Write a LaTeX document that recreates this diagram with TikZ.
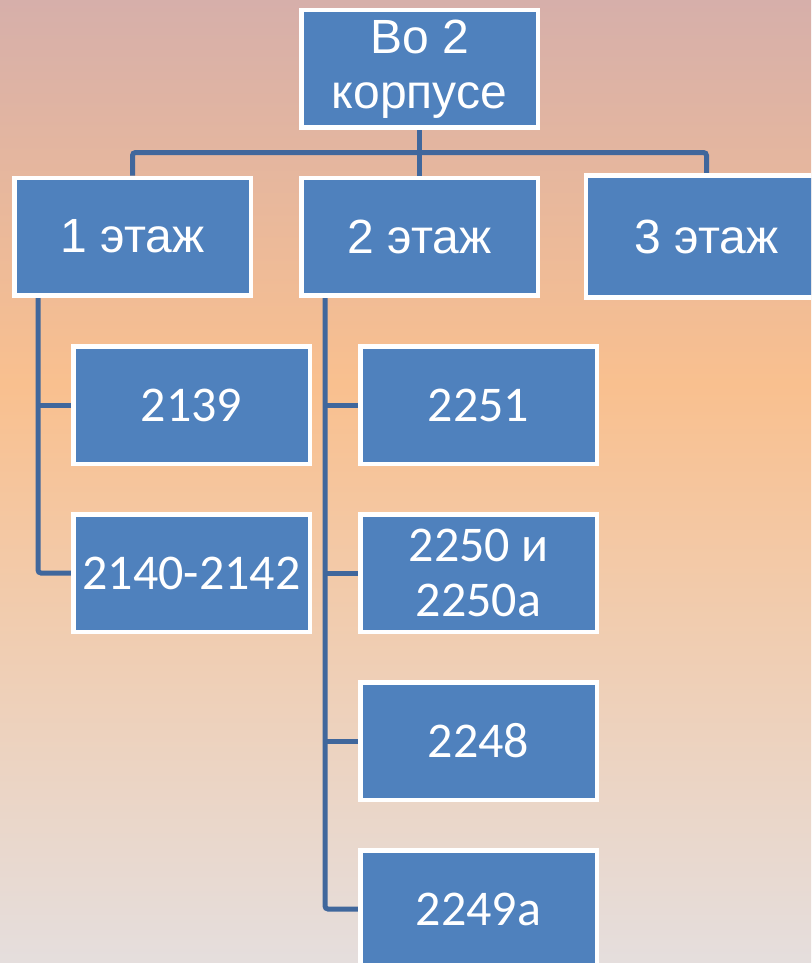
\documentclass[tikz,border=0pt]{standalone}
\usepackage{fontspec}
\setmainfont{Liberation Sans}
\newfontfamily\numfont{Carlito}
\usetikzlibrary{backgrounds}
\definecolor{bgtop}{RGB}{214,175,170}
\definecolor{bgmid}{RGB}{249,192,143}
\definecolor{bgbot}{RGB}{229,222,221}
\definecolor{boxblue}{RGB}{79,129,189}
\definecolor{linkblue}{RGB}{64,103,156}
\pgfdeclareverticalshading{bgshade}{100bp}{color(0bp)=(bgbot); color(25bp)=(bgbot); color(55bp)=(bgmid); color(75bp)=(bgtop); color(100bp)=(bgtop)}
\tikzset{
  orgbox/.style={draw=white, line width=4.5pt, fill=boxblue, text=white,
    minimum width=236.5pt, minimum height=117.5pt, inner sep=0pt, align=center},
  wordbox/.style={orgbox, font=\fontsize{48}{55}\selectfont},
  numbox/.style={orgbox, font=\numfont\fontsize{50}{55}\selectfont},
  conn/.style={draw=linkblue, line width=5pt, rounded corners=3pt}
}
\begin{document}
\begin{tikzpicture}[x=1pt,y=-1pt]
\useasboundingbox (0,0) rectangle (811,963);
\begin{pgfonlayer}{background}
  \shade[shading=bgshade] (0,0) rectangle (811,963);
\end{pgfonlayer}
\begin{scope}
\clip (0,0) rectangle (811,963);
\node[wordbox] (top) at (419.5,69) {Во 2\\корпусе};
\node[wordbox] (e1) at (132.5,236.5) {1 этаж};
\node[wordbox] (e2) at (419.5,236.5) {2 этаж};
\node[wordbox, draw=none] (e3) at (706.5,236.5) {3 этаж};
\draw[white, line width=4.5pt] (e3.north east) -- (e3.north west) -- (e3.south west) -- (e3.south east);
\node[numbox] (a1) at (191.5,405) {2139};
\node[numbox] (a2) at (191.5,573) {2140-2142};
\node[numbox] (b1) at (478.5,405) {2251};
\node[numbox] (b2) at (478.5,573) {2250 и\\2250a};
\node[numbox] (b3) at (478.5,741) {2248};
\node[numbox] (b4) at (478.5,909) {2249a};
\coordinate (bus) at (0,152.5);
\coordinate (s1) at (38,0);
\coordinate (s2) at (325,0);
\begin{pgfonlayer}{background}
  \draw[conn] (top.south) -- (e2.north);
  \draw[conn] (e1.north) |- (e3.north |- bus) -- (e3.north);
  \draw[conn] (e1.south -| s1) |- (a2.west);
  \draw[conn] (s1 |- a1.west) -- (a1.west);
  \draw[conn] (e2.south -| s2) |- (b4.west);
  \draw[conn] (s2 |- b1.west) -- (b1.west);
  \draw[conn] (s2 |- b2.west) -- (b2.west);
  \draw[conn] (s2 |- b3.west) -- (b3.west);
\end{pgfonlayer}
\end{scope}
\end{tikzpicture}
\end{document}
